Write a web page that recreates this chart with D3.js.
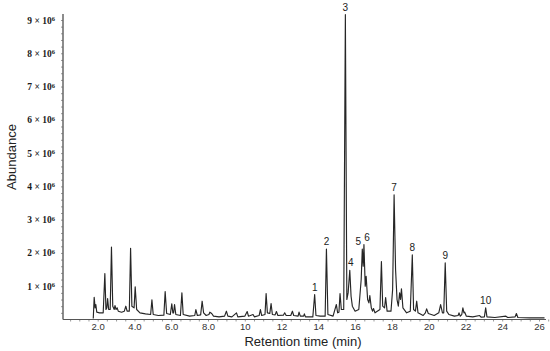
<!DOCTYPE html>
<html>
<head>
    <meta charset="utf-8">
    <title>Chromatogram</title>
    <script src="https://d3js.org/d3.v7.min.js" charset="utf-8"></script>
    <style type="text/css">
        body {
            margin: 0;
            background: #fff;
            font: 10px "Liberation Sans", Arial, sans-serif;
        }

        .trace {
            fill: none;
            stroke: #262626;
            stroke-width: 1.15px;
            stroke-linejoin: round;
        }

        .axis path {
            stroke: #555;
        }
    </style>
</head>
<body>
<script type="text/javascript">
    // retention time (min) of each trace point
    var traceTime = [
        1.76, 1.81, 1.86, 1.9, 1.95, 2.1, 2.3, 2.39, 2.45, 2.5, 2.54, 2.6, 2.68, 2.75, 2.82, 2.9, 2.94, 3.0, 3.06, 3.12,
        3.3, 3.45, 3.53, 3.6, 3.72, 3.79, 3.86, 3.98, 4.04, 4.12, 4.3, 4.6, 4.88, 4.95, 5.02, 5.3, 5.6, 5.67, 5.75, 5.95,
        6.03, 6.09, 6.13, 6.18, 6.25, 6.5, 6.58, 6.65, 7.0, 7.28, 7.34, 7.42, 7.6, 7.68, 7.76, 7.9, 8.05, 8.1, 8.2, 8.3,
        8.6, 8.9, 9.0, 9.08, 9.3, 9.55, 9.62, 10.0, 10.13, 10.2, 10.45, 10.52, 10.78, 10.85, 10.92, 11.1, 11.16, 11.23, 11.36, 11.43,
        11.5, 11.65, 11.72, 11.8, 12.1, 12.17, 12.25, 12.5, 12.59, 12.66, 12.9, 12.95, 13.02, 13.2, 13.24, 13.3, 13.7, 13.8, 13.87, 14.1,
        14.37, 14.44, 14.52, 14.8, 14.98, 15.05, 15.12, 15.18, 15.25, 15.38, 15.47, 15.55, 15.62, 15.71, 15.78, 15.85, 16.0, 16.2, 16.33, 16.39,
        16.44, 16.48, 16.55, 16.6, 16.68, 16.75, 16.8, 16.88, 16.95, 17.0, 17.08, 17.35, 17.43, 17.5, 17.6, 17.66, 17.74, 17.95, 18.04, 18.12,
        18.2, 18.28, 18.35, 18.42, 18.47, 18.52, 18.6, 18.8, 19.0, 19.11, 19.18, 19.28, 19.35, 19.42, 19.7, 19.82, 19.89, 19.98, 20.3, 20.55,
        20.65, 20.75, 20.82, 20.9, 20.98, 21.1, 21.4, 21.6, 21.65, 21.72, 21.8, 21.86, 21.92, 21.96, 22.05, 22.4, 22.77, 22.85, 23.03, 23.1,
        23.17, 23.6, 24.2, 24.3, 24.7, 24.77, 24.85, 25.5, 26.3
    ];

    // abundance at each point, in units of 10^6
    var traceAbundance = [
        0.03, 0.67, 0.35, 0.45, 0.22, 0.2, 0.2, 1.38, 0.3, 0.35, 0.63, 0.3, 0.3, 2.18, 0.4, 0.3, 0.42, 0.3, 0.35, 0.25,
        0.22, 0.25, 0.4, 0.25, 0.25, 2.14, 0.4, 0.35, 0.98, 0.3, 0.2, 0.17, 0.15, 0.59, 0.15, 0.12, 0.13, 0.84, 0.18, 0.15,
        0.47, 0.2, 0.2, 0.45, 0.15, 0.12, 0.8, 0.15, 0.1, 0.12, 0.3, 0.12, 0.14, 0.55, 0.2, 0.12, 0.15, 0.22, 0.18, 0.1,
        0.08, 0.1, 0.25, 0.1, 0.08, 0.2, 0.08, 0.1, 0.24, 0.1, 0.15, 0.08, 0.12, 0.3, 0.12, 0.15, 0.78, 0.2, 0.18, 0.48,
        0.15, 0.14, 0.24, 0.12, 0.13, 0.2, 0.12, 0.12, 0.25, 0.12, 0.1, 0.22, 0.1, 0.1, 0.17, 0.08, 0.08, 0.75, 0.12, 0.1,
        0.1, 2.12, 0.15, 0.1, 0.45, 0.2, 0.22, 0.78, 0.3, 0.3, 9.16, 0.6, 0.8, 1.48, 0.7, 0.4, 0.25, 0.3, 1.2, 2.12,
        1.6, 2.25, 1.0, 1.3, 0.6, 0.5, 0.72, 0.35, 0.25, 0.33, 0.2, 0.3, 1.74, 0.4, 0.35, 0.66, 0.25, 0.25, 0.9, 3.75,
        1.5, 0.6, 0.4, 0.8, 0.6, 0.92, 0.35, 0.2, 0.25, 1.94, 0.3, 0.25, 0.55, 0.2, 0.12, 0.2, 0.32, 0.18, 0.12, 0.2,
        0.45, 0.2, 0.2, 1.7, 0.25, 0.15, 0.1, 0.12, 0.2, 0.1, 0.15, 0.35, 0.2, 0.22, 0.1, 0.08, 0.12, 0.07, 0.08, 0.35,
        0.08, 0.06, 0.1, 0.06, 0.08, 0.18, 0.06, 0.05, 0.05
    ];

    // numbered compounds
    var peakNames = ["1", "2", "3", "4", "5", "6", "7", "8", "9", "10"];
    var peakTimes = [13.8, 14.44, 15.47, 15.71, 16.39, 16.48, 18.12, 19.11, 20.9, 23.1];
    var peakHeights = [0.75, 2.12, 9.16, 1.48, 2.12, 2.25, 3.75, 1.94, 1.7, 0.35];

    var xTicks = [2, 4, 6, 8, 10, 12, 14, 16, 18, 20, 22, 24, 26];
    var xTickLabels = ["2.0", "4.0", "6.0", "8.0", "10", "12", "14", "16", "18", "20", "22", "24", "26"];
    var yTicks = [1, 2, 3, 4, 5, 6, 7, 8, 9];

    var width = 550,
        height = 351;

    var x = d3.scaleLinear()
        .domain([0, 26])
        .range([60.9, 539]);

    var y = d3.scaleLinear()
        .domain([0, 9])
        .range([319.5, 20]);

    var svg = d3.select("body").append("svg")
        .attr("width", width)
        .attr("height", height);

    var data = traceTime.map(function (t, i) {
        return { t: t, a: traceAbundance[i] };
    });

    // minor ticks along both axes
    var xMinor = d3.axisBottom(x)
        .tickValues(d3.range(0.5, 26.6, 0.5))
        .tickSize(2)
        .tickFormat("");
    svg.append("g")
        .attr("class", "axis")
        .attr("transform", "translate(0,319.5)")
        .call(xMinor)
        .call(function (g) {
            g.select(".domain").remove();
            g.selectAll("line").attr("stroke", "#999");
        });

    var yMinor = d3.axisLeft(y)
        .tickValues(d3.range(0.2, 9.1, 0.2))
        .tickSize(2)
        .tickFormat("");
    svg.append("g")
        .attr("class", "axis")
        .attr("transform", "translate(63,0)")
        .call(yMinor)
        .call(function (g) {
            g.select(".domain").remove();
            g.selectAll("line").attr("stroke", "#999");
        });

    // axis lines
    svg.append("line")
        .attr("x1", 63).attr("x2", 546)
        .attr("y1", 319.5).attr("y2", 319.5)
        .attr("stroke", "#555")
        .attr("stroke-width", 1.2);
    svg.append("line")
        .attr("x1", 63).attr("x2", 63)
        .attr("y1", 14).attr("y2", 319.5)
        .attr("stroke", "#666")
        .attr("stroke-width", 1.5);

    // labelled x axis
    var xAxis = d3.axisBottom(x)
        .tickValues(xTicks)
        .tickSize(0)
        .tickPadding(4)
        .tickFormat(function (d, i) { return xTickLabels[i]; });
    svg.append("g")
        .attr("transform", "translate(0,319.5)")
        .call(xAxis)
        .call(function (g) {
            g.select(".domain").remove();
            g.selectAll("text")
                .attr("fill", "#333")
                .style("font", "9.5px 'Liberation Sans', Arial, sans-serif");
        });

    // labelled y axis, "n × 10^6"
    var yAxis = d3.axisLeft(y)
        .tickValues(yTicks)
        .tickSize(0)
        .tickPadding(8)
        .tickFormat("");
    var yg = svg.append("g")
        .attr("transform", "translate(63,0)")
        .call(yAxis);
    yg.select(".domain").remove();
    yg.selectAll(".tick text")
        .attr("fill", "#1a1a1a")
        .style("font", "bold 9.5px 'Liberation Serif', 'Times New Roman', serif")
        .each(function (d) {
            var t = d3.select(this);
            t.append("tspan").text(d + " \u00d7 10");
            t.append("tspan")
                .attr("dy", "-0.4em")
                .style("font-size", "6.5px")
                .text("6");
        });

    // trace
    var line = d3.line()
        .x(function (d) { return x(d.t); })
        .y(function (d) { return y(d.a); });

    svg.append("path")
        .datum(data)
        .attr("class", "trace")
        .attr("d", line);

    // peak numbers
    var nudge = { "5": -4, "6": 3, "4": 1 };
    svg.selectAll(".peak-label")
        .data(peakNames)
        .enter().append("text")
        .attr("class", "peak-label")
        .attr("x", function (d, i) { return x(peakTimes[i]) + (nudge[d] || 0); })
        .attr("y", function (d, i) { return y(peakHeights[i]) - 4; })
        .attr("text-anchor", "middle")
        .attr("fill", "#222")
        .style("font", "10px 'Liberation Sans', Arial, sans-serif")
        .text(function (d) { return d; });

    // axis titles
    svg.append("text")
        .attr("x", 303)
        .attr("y", 346)
        .attr("text-anchor", "middle")
        .attr("fill", "#222")
        .style("font", "13px 'Liberation Sans', Arial, sans-serif")
        .text("Retention time (min)");

    svg.append("text")
        .attr("transform", "translate(16,157) rotate(-90)")
        .attr("text-anchor", "middle")
        .attr("fill", "#222")
        .style("font", "13px 'Liberation Sans', Arial, sans-serif")
        .text("Abundance");
</script>
</body>
</html>
